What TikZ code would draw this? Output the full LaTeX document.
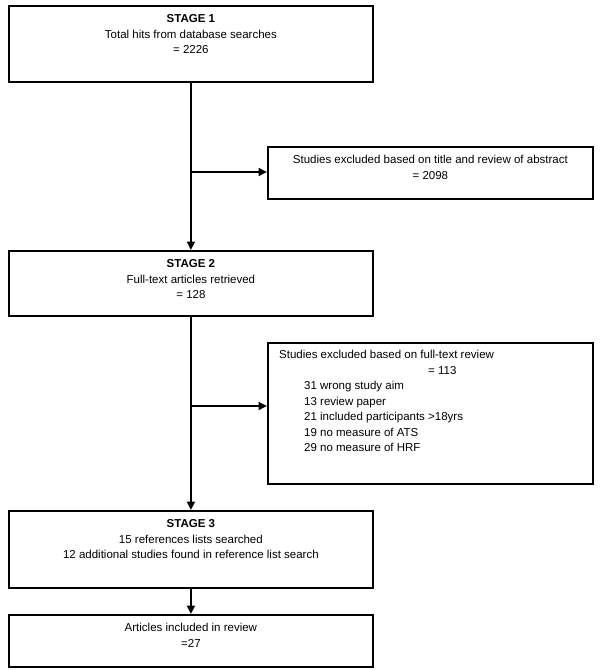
\documentclass[tikz,border=0pt]{standalone}
\usepackage{fontspec}
\setmainfont{Liberation Sans}
\usetikzlibrary{arrows.meta}
\begin{document}
\begin{tikzpicture}[x=1pt,y={(0pt,-1pt)},
  box/.style={draw=black,line width=1.8pt,inner sep=0pt},
  txt/.style={inner sep=0pt,font=\fontsize{11.5}{15.5}\selectfont},
  conn/.style={line width=1.8pt},
  arr/.style={conn,-{Triangle[length=8.5pt,width=8pt]}}]
\fill[white] (0,0) rectangle (600,670);
\useasboundingbox (0,0) rectangle (600,670);
% boxes
\node[box,minimum width=364pt,minimum height=76pt,anchor=north west] (b1) at (8,5) {};
\node[box,minimum width=325pt,minimum height=52pt,anchor=north west] (e1) at (267,146) {};
\node[box,minimum width=364pt,minimum height=65pt,anchor=north west] (b2) at (8,250) {};
\node[box,minimum width=325pt,minimum height=141pt,anchor=north west] (e2) at (267,342) {};
\node[box,minimum width=364pt,minimum height=77pt,anchor=north west] (b3) at (8,510) {};
\node[box,minimum width=364pt,minimum height=52pt,anchor=north west] (b4) at (8,614) {};
% texts
\node[txt,align=center,anchor=north] (t1) at ([yshift=-6.5pt]b1.north) {\strut\textbf{STAGE 1}\\Total hits from database searches\\= 2226};
\node[txt,align=center,anchor=north] (te1) at ([yshift=-6.5pt]e1.north) {\strut Studies excluded based on title and review of abstract\\= 2098};
\node[txt,align=center,anchor=north] (t2) at ([yshift=-6.5pt]b2.north) {\strut\textbf{STAGE 2}\\Full-text articles retrieved\\= 128};
\node[txt,align=left,anchor=north west] (te2) at ([xshift=12pt,yshift=-5.5pt]e2.north west) {\strut Studies excluded based on full-text review\\
\hspace*{149pt}= 113\\
\hspace*{25pt}31 wrong study aim\\
\hspace*{25pt}13 review paper\\
\hspace*{25pt}21 included participants >18yrs\\
\hspace*{25pt}19 no measure of ATS\\
\hspace*{25pt}29 no measure of HRF};
\node[txt,align=center,anchor=north] (t3) at ([yshift=-6.5pt]b3.north) {\strut\textbf{STAGE 3}\\15 references lists searched\\12 additional studies found in reference list search};
\node[txt,align=center,anchor=north] (t4) at ([yshift=-6.5pt]b4.north) {\strut Articles included in review\\=27};
% connectors
\coordinate (j1) at (190,172);
\coordinate (j2) at (190,406);
\draw[arr] (b1.south) -- (b2.north);
\draw[arr] (j1) -- (j1 -| e1.west);
\draw[arr] (b2.south) -- (b3.north);
\draw[arr] (j2) -- (j2 -| e2.west);
\draw[arr] (b3.south) -- (b4.north);
\end{tikzpicture}
\end{document}
